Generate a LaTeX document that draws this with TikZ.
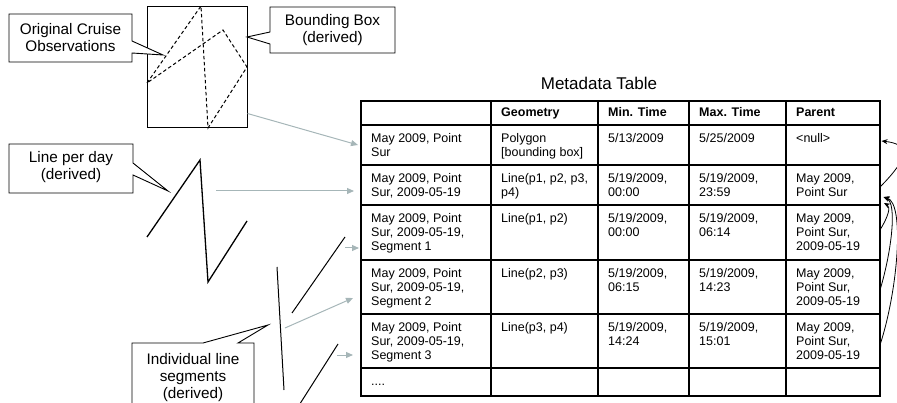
\documentclass[tikz,border=0pt]{standalone}
\usepackage{fontspec}
\setmainfont{Liberation Sans}
\usetikzlibrary{arrows.meta}
\definecolor{arrgray}{RGB}{166,182,184}
\newcommand\ml[1]{\begin{tabular}[t]{@{}l@{}}#1\end{tabular}}
\begin{document}
\begin{tikzpicture}[x=1pt,y=-1pt,
  callout/.style={draw=black, fill=white, line width=0.9pt, line join=miter},
  ctext/.style={font=\fontsize{15.3}{17}\selectfont, align=center, inner sep=0},
  cell/.style={anchor=base west, inner sep=0, font=\fontsize{12.5}{14.2}\selectfont},
  hcell/.style={cell, font=\fontsize{12.5}{14.2}\selectfont\bfseries},
  grid/.style={line width=1.4pt},
  feed/.style={draw=arrgray, line width=1pt, -{Triangle[length=7pt,width=6pt]}},
  parent/.style={draw=black, line width=0.8pt, -{Stealth[length=6pt,width=5pt]}},
  trace/.style={line width=1.3pt},
  seg/.style={line width=1pt}
  ]
\useasboundingbox (0,0) rectangle (897,403);
\clip (0,0) rectangle (897,403);

% ---- cruise observations and bounding box
\node[draw, line width=1pt, minimum width=100pt, minimum height=121pt, inner sep=0] (bbox) at (197,67.5) {};
\draw[line width=1pt, dash pattern=on 3.5pt off 2.5pt] (147,83) -- (201,6) -- (208,128) -- (247,67) -- (223,30) -- cycle;

% callouts
\draw[callout] (9,14) -- (132,14) -- (132,41) -- (163,55) -- (132,53) -- (132,62) -- (9,62) -- cycle;
\node[ctext] (cruise) at (70.5,38) {Original Cruise\\Observations};

\draw[callout] (270,7) -- (395,7) -- (395,53) -- (270,53) -- (270,44) -- (247,37) -- (270,32) -- cycle;
\node[ctext] (bbtext) at (332.5,30) {Bounding Box\\(derived)};

\draw[callout] (9,144) -- (133,144) -- (133,163) -- (168,191) -- (133,175) -- (133,193) -- (9,193) -- cycle;
\node[ctext] (lpd) at (71,167) {Line per day\\(derived)};

\draw[callout] (132,343) -- (203,343) -- (268,325) -- (238,343) -- (254,343) -- (254,420) -- (132,420) -- cycle;
\node[ctext] (ils) at (193,378) {Individual line\\segments\\(derived)};

% line per day
\draw[trace] (147,237) -- (200,160) -- (208,282) -- (247,221);

% individual segments
\draw[seg] (292,313) -- (345,237);
\draw[seg] (277,267) -- (284,390);
\draw[seg] (296,410) -- (338,344);

% ---- table
\node[font=\fontsize{17}{20}\selectfont, inner sep=0, anchor=base] (title) at (599,90) {Metadata Table};
\draw[grid] (361,101) rectangle (880,396);
\foreach \x in {491,598,689,786} \draw[grid] (\x,101) -- (\x,396);
\foreach \y in {125,165,205,260,314,368} \draw[grid] (361,\y) -- (880,\y);

\node[hcell] (h2) at (501,117) {Geometry};
\node[hcell] (h3) at (608,117) {Min. Time};
\node[hcell] (h4) at (699,117) {Max. Time};
\node[hcell] (h5) at (796,117) {Parent};

\node[cell] (a1) at (371,142.5) {\ml{May 2009, Point\\Sur}};
\node[cell] (a2) at (501,142.5) {\ml{Polygon\\{}[bounding box]}};
\node[cell] (a3) at (608,142.5) {5/13/2009};
\node[cell] (a4) at (699,142.5) {5/25/2009};
\node[cell] (a5) at (796,142.5) {<null>};

\node[cell] (b1) at (371,182.5) {\ml{May 2009, Point\\Sur, 2009-05-19}};
\node[cell] (b2) at (501,182.5) {\ml{Line(p1, p2, p3,\\p4)}};
\node[cell] (b3) at (608,182.5) {\ml{5/19/2009,\\00:00}};
\node[cell] (b4) at (699,182.5) {\ml{5/19/2009,\\23:59}};
\node[cell] (b5) at (796,182.5) {\ml{May 2009,\\Point Sur}};

\node[cell] (c1) at (371,222.5) {\ml{May 2009, Point\\Sur, 2009-05-19,\\Segment 1}};
\node[cell] (c2) at (501,222.5) {Line(p1, p2)};
\node[cell] (c3) at (608,222.5) {\ml{5/19/2009,\\00:00}};
\node[cell] (c4) at (699,222.5) {\ml{5/19/2009,\\06:14}};
\node[cell] (c5) at (796,222.5) {\ml{May 2009,\\Point Sur,\\2009-05-19}};

\node[cell] (d1) at (371,277.5) {\ml{May 2009, Point\\Sur, 2009-05-19,\\Segment 2}};
\node[cell] (d2) at (501,277.5) {Line(p2, p3)};
\node[cell] (d3) at (608,277.5) {\ml{5/19/2009,\\06:15}};
\node[cell] (d4) at (699,277.5) {\ml{5/19/2009,\\14:23}};
\node[cell] (d5) at (796,277.5) {\ml{May 2009,\\Point Sur,\\2009-05-19}};

\node[cell] (e1) at (371,331.5) {\ml{May 2009, Point\\Sur, 2009-05-19,\\Segment 3}};
\node[cell] (e2) at (501,331.5) {Line(p3, p4)};
\node[cell] (e3) at (608,331.5) {\ml{5/19/2009,\\14:24}};
\node[cell] (e4) at (699,331.5) {\ml{5/19/2009,\\15:01}};
\node[cell] (e5) at (796,331.5) {\ml{May 2009,\\Point Sur,\\2009-05-19}};

\node[cell] (f1) at (371,385) {....};

% ---- connector end points
\coordinate (row1in) at (358,145);
\coordinate (row2in) at (354,191);
\coordinate (row3in) at (359,248);
\coordinate (row4in) at (353,298);
\coordinate (row5in) at (353,355);
\coordinate (dayout) at (216,191);
\coordinate (s1out) at (345,248);
\coordinate (s2out) at (285,328);
\coordinate (s3out) at (337,355);

\draw[feed] ([yshift=15pt]bbox.south east) -- (row1in);
\draw[feed] (dayout) -- (row2in);
\draw[feed] (s1out) -- (row3in);
\draw[feed] (s2out) -- (row4in);
\draw[feed] (s3out) -- (row5in);

% parent links
\coordinate (p1in) at (881.5,141);
\coordinate (p2out) at (880,187);
\coordinate (p2in) at (884,203);
\coordinate (p2in2) at (883.5,197);
\coordinate (p3out) at (880,230);
\coordinate (p4out) at (880,290);
\coordinate (p5out) at (880,345);

\draw[parent] (p2out) .. controls (912,155) and (908,144) .. (p1in);
\draw[parent] (p3out) .. controls (888,217) and (891,207) .. (p2in);
\draw[parent] (p4out) .. controls (892,250) and (897,203) .. (p2in2);
\draw[parent] (p5out) .. controls (898,290) and (905,203) .. (p2in2);
\end{tikzpicture}
\end{document}
